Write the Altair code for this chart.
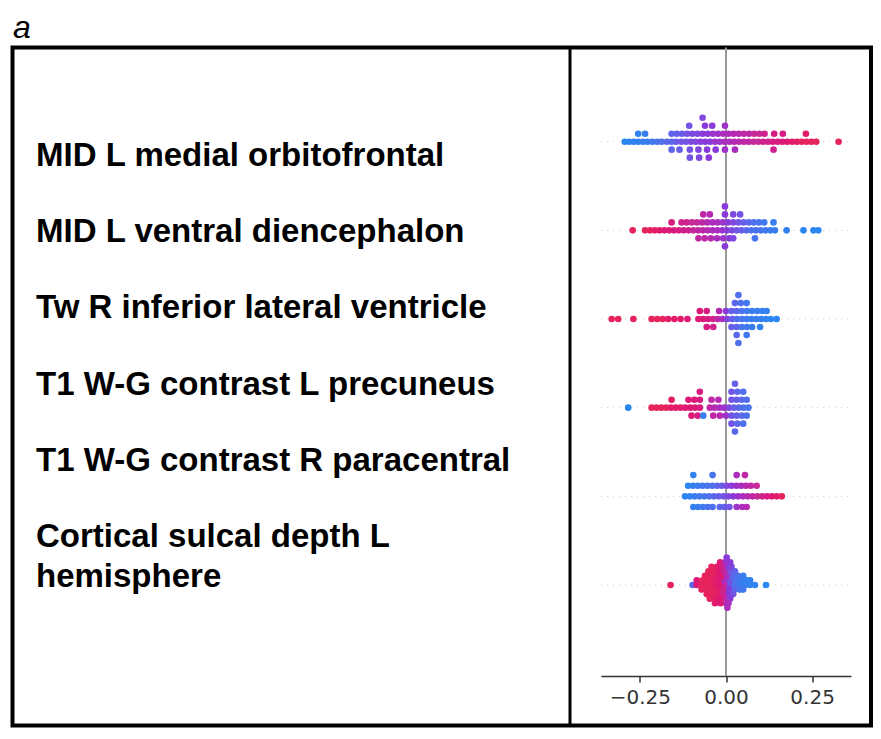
import altair as alt
import pandas as pd

# ---------------- data ----------------
features = [
    "MID L medial orbitofrontal",
    "MID L ventral diencephalon",
    "Tw R inferior lateral ventricle",
    "T1 W-G contrast L precuneus",
    "T1 W-G contrast R paracentral",
    "Cortical sulcal depth L\nhemisphere",
]
tick_values = [-0.25, 0.0, 0.25]

# each row: stacking layer -> list of (SHAP value, feature value 0=low/blue .. 1=high/red)
row_orbitofrontal = {
    0: [(-0.294, 0.0), (-0.281, 0.0), (-0.268, 0.05), (-0.255, 0.05), (-0.241, 0.1), (-0.228, 0.1),
        (-0.214, 0.15), (-0.2, 0.2), (-0.187, 0.25), (-0.172, 0.3), (-0.158, 0.3), (-0.145, 0.35),
        (-0.13, 0.4), (-0.116, 0.4), (-0.102, 0.45), (-0.088, 0.45), (-0.074, 0.5), (-0.06, 0.5),
        (-0.046, 0.5), (-0.032, 0.55), (-0.018, 0.55), (-0.004, 0.6), (0.01, 0.6), (0.024, 0.65),
        (0.038, 0.65), (0.052, 0.7), (0.066, 0.7), (0.08, 0.75), (0.094, 0.75), (0.108, 0.8),
        (0.122, 0.8), (0.136, 0.85), (0.15, 0.85), (0.164, 0.9), (0.178, 0.9), (0.192, 0.95),
        (0.206, 0.95), (0.22, 1.0), (0.234, 1.0), (0.248, 1.0), (0.262, 1.0), (0.327, 1.0)],
    -1: [(-0.255, 0.05), (-0.235, 0.1), (-0.158, 0.3), (-0.143, 0.35), (-0.128, 0.35), (-0.113, 0.4),
         (-0.098, 0.45), (-0.083, 0.45), (-0.068, 0.5), (-0.053, 0.5), (-0.038, 0.55), (-0.023, 0.55),
         (-0.008, 0.6), (0.007, 0.6), (0.022, 0.65), (0.037, 0.65), (0.052, 0.7), (0.067, 0.7),
         (0.082, 0.75), (0.097, 0.75), (0.112, 0.8), (0.14, 0.85), (0.165, 0.85), (0.232, 0.95)],
    -2: [(-0.107, 0.4), (-0.061, 0.5), (-0.04, 0.5), (-0.003, 0.55)],
    -3: [(-0.068, 0.45)],
    1: [(-0.158, 0.3), (-0.135, 0.35), (-0.105, 0.4), (-0.08, 0.45), (-0.055, 0.5), (-0.03, 0.5),
        (-0.003, 0.55), (0.026, 0.6), (0.138, 0.8)],
    2: [(-0.105, 0.4), (-0.078, 0.45), (-0.05, 0.5)],
}
row_diencephalon = {
    0: [(-0.271, 1.0), (-0.235, 1.0), (-0.221, 1.0), (-0.207, 0.95), (-0.193, 0.95), (-0.179, 0.9),
        (-0.165, 0.9), (-0.151, 0.85), (-0.137, 0.85), (-0.123, 0.8), (-0.109, 0.8), (-0.095, 0.75),
        (-0.081, 0.7), (-0.067, 0.7), (-0.053, 0.65), (-0.039, 0.6), (-0.025, 0.6), (-0.011, 0.55),
        (0.003, 0.5), (0.017, 0.45), (0.031, 0.4), (0.045, 0.35), (0.059, 0.3), (0.073, 0.25),
        (0.087, 0.2), (0.101, 0.2), (0.115, 0.15), (0.129, 0.1), (0.142, 0.1), (0.176, 0.05),
        (0.225, 0.0), (0.254, 0.0), (0.268, 0.0)],
    -1: [(-0.158, 0.85), (-0.129, 0.8), (-0.114, 0.8), (-0.099, 0.75), (-0.084, 0.75), (-0.069, 0.7),
         (-0.054, 0.65), (-0.039, 0.6), (-0.024, 0.6), (-0.009, 0.55), (0.006, 0.5), (0.021, 0.45),
         (0.036, 0.4), (0.051, 0.35), (0.066, 0.3), (0.081, 0.25), (0.096, 0.2), (0.111, 0.15),
         (0.138, 0.1)],
    -2: [(-0.066, 0.7), (-0.047, 0.65), (-0.003, 0.5), (0.021, 0.45), (0.041, 0.4)],
    -3: [(-0.003, 0.5)],
    1: [(-0.08, 0.7), (-0.062, 0.7), (-0.044, 0.65), (-0.026, 0.6), (-0.008, 0.55), (0.01, 0.5),
        (0.021, 0.45), (0.084, 0.2)],
    2: [(-0.003, 0.5)],
}
row_ventricle = {
    0: [(-0.332, 1.0), (-0.313, 1.0), (-0.269, 1.0), (-0.216, 1.0), (-0.2, 1.0), (-0.184, 1.0),
        (-0.168, 0.95), (-0.15, 0.95), (-0.132, 0.95), (-0.112, 0.9), (-0.08, 0.9), (-0.066, 0.9),
        (-0.052, 0.85), (-0.038, 0.8), (-0.024, 0.7), (-0.01, 0.6), (0.004, 0.45), (0.018, 0.35),
        (0.032, 0.25), (0.046, 0.2), (0.06, 0.15), (0.074, 0.1), (0.088, 0.1), (0.102, 0.05),
        (0.116, 0.05), (0.13, 0.0), (0.147, 0.0)],
    -1: [(-0.076, 0.9), (-0.056, 0.85), (-0.02, 0.65), (0.0, 0.5), (0.016, 0.35), (0.031, 0.3),
         (0.046, 0.2), (0.061, 0.15), (0.076, 0.1), (0.091, 0.1), (0.106, 0.05), (0.118, 0.05)],
    -2: [(0.026, 0.3), (0.043, 0.25), (0.06, 0.15)],
    -3: [(0.036, 0.25)],
    1: [(-0.056, 0.85), (-0.037, 0.8), (0.016, 0.35), (0.031, 0.3), (0.046, 0.2), (0.061, 0.15),
        (0.076, 0.1), (0.099, 0.05)],
    2: [(0.031, 0.3), (0.06, 0.15)],
    3: [(0.036, 0.25)],
}
row_precuneus = {
    0: [(-0.284, 0.0), (-0.216, 1.0), (-0.202, 1.0), (-0.188, 1.0), (-0.174, 1.0), (-0.16, 0.95),
        (-0.146, 0.95), (-0.132, 0.95), (-0.118, 0.9), (-0.104, 0.9), (-0.09, 0.9), (-0.076, 0.85),
        (-0.047, 0.7), (-0.033, 0.65), (-0.019, 0.6), (-0.005, 0.55), (0.009, 0.45), (0.023, 0.35),
        (0.037, 0.3), (0.051, 0.25), (0.065, 0.2)],
    -1: [(-0.158, 0.95), (-0.109, 0.9), (-0.092, 0.9), (-0.076, 0.85), (-0.042, 0.7), (-0.022, 0.65),
         (0.016, 0.4), (0.031, 0.35), (0.046, 0.3), (0.06, 0.25)],
    -2: [(-0.076, 0.85), (0.016, 0.4), (0.033, 0.3), (0.05, 0.25)],
    -3: [(0.026, 0.35)],
    1: [(-0.1, 0.9), (-0.082, 0.85), (-0.066, 0.1), (-0.037, 0.7), (-0.018, 0.65), (0.0, 0.55),
        (0.016, 0.4), (0.031, 0.35), (0.046, 0.3), (0.06, 0.25)],
    2: [(0.016, 0.4), (0.033, 0.3), (0.05, 0.25)],
    3: [(0.026, 0.3)],
}
row_paracentral = {
    0: [(-0.119, 0.0), (-0.105, 0.05), (-0.091, 0.1), (-0.077, 0.15), (-0.063, 0.2), (-0.049, 0.25),
        (-0.035, 0.3), (-0.021, 0.35), (-0.007, 0.4), (0.007, 0.45), (0.021, 0.5), (0.035, 0.55),
        (0.049, 0.6), (0.063, 0.65), (0.077, 0.7), (0.091, 0.75), (0.105, 0.8), (0.119, 0.85),
        (0.133, 0.9), (0.147, 0.95), (0.162, 1.0)],
    -1: [(-0.11, 0.0), (-0.096, 0.05), (-0.082, 0.1), (-0.068, 0.15), (-0.054, 0.2), (-0.04, 0.25),
         (-0.026, 0.3), (-0.012, 0.35), (0.002, 0.45), (0.016, 0.5), (0.03, 0.55), (0.044, 0.6),
         (0.058, 0.65), (0.072, 0.7), (0.089, 0.75)],
    -2: [(-0.095, 0.05), (-0.039, 0.2), (0.031, 0.6), (0.055, 0.7)],
    1: [(-0.095, 0.05), (-0.081, 0.1), (-0.067, 0.15), (-0.053, 0.2), (-0.039, 0.25), (-0.018, 0.3),
        (-0.004, 0.35), (0.01, 0.4), (0.031, 0.55), (0.047, 0.6), (0.06, 0.65)],
}
row_sulcal = {
    0: [(-0.161, 1.0), (-0.097, 0.3), (-0.085, 0.9), (-0.071, 1.0), (-0.057, 1.0), (-0.043, 1.0),
        (-0.029, 0.95), (-0.015, 0.9), (-0.001, 0.7), (0.013, 0.4), (0.027, 0.2), (0.041, 0.1),
        (0.055, 0.1), (0.069, 0.05), (0.084, 0.05), (0.116, 0.0)],
    -1: [(-0.085, 0.9), (-0.068, 1.0), (-0.052, 1.0), (-0.036, 0.95), (-0.02, 0.9), (-0.004, 0.6),
         (0.012, 0.4), (0.028, 0.2), (0.044, 0.1), (0.06, 0.05), (0.07, 0.05)],
    -2: [(-0.061, 1.0), (-0.045, 1.0), (-0.029, 0.95), (-0.013, 0.9), (0.003, 0.6), (0.019, 0.3),
         (0.035, 0.2), (0.05, 0.1)],
    -3: [(-0.051, 1.0), (-0.035, 1.0), (-0.019, 0.9), (-0.003, 0.7), (0.013, 0.4), (0.026, 0.3)],
    -4: [(-0.042, 1.0), (-0.026, 0.95), (-0.01, 0.8), (0.006, 0.5), (0.016, 0.45)],
    -5: [(-0.017, 0.9), (-0.002, 0.6), (0.012, 0.5)],
    -6: [(0.002, 0.5)],
    1: [(-0.071, 1.0), (-0.055, 1.0), (-0.039, 1.0), (-0.023, 0.95), (-0.007, 0.8), (0.009, 0.5),
        (0.025, 0.3), (0.04, 0.2), (0.05, 0.15)],
    2: [(-0.056, 1.0), (-0.04, 1.0), (-0.024, 0.95), (-0.008, 0.8), (0.008, 0.5), (0.021, 0.4)],
    3: [(-0.047, 1.0), (-0.031, 0.95), (-0.015, 0.9), (0.0, 0.7), (0.012, 0.5)],
    4: [(-0.032, 0.95), (-0.016, 0.9), (0.0, 0.7), (0.007, 0.6)],
    5: [(0.004, 0.6)],
}
rows = [row_orbitofrontal, row_diencephalon, row_ventricle,
        row_precuneus, row_paracentral, row_sulcal]

# ---------------- tables ----------------
records = []
for r, layers in enumerate(rows):
    max_layer = max(abs(k) for k in layers)
    step = 0.9 * 0.4 / (max_layer + 1)  # SHAP-style beeswarm stacking
    for layer, pts in layers.items():
        for sv, fv in pts:
            records.append({"row": r, "shap": sv, "fv": fv, "ypos": r + layer * step})
dots_df = pd.DataFrame(records)

rows_df = pd.DataFrame({"row": list(range(len(features)))})

label_records = []
for i, name in enumerate(features):
    for j, line in enumerate(name.split("\n")):
        label_records.append({"line": line, "lpos": i + j * 40 / 76})
labels_df = pd.DataFrame(label_records)

# ---------------- chart ----------------
XMIN, XMAX = -0.363, 0.363
W, H = 858.5, 678
xscale = alt.Scale(domain=[XMIN, XMAX], range=[588.5, 838.5], nice=False, zero=False)
yscale = alt.Scale(domain=[0, 5], range=[94.2, 537.5], nice=False, zero=False)

xaxis = alt.Axis(values=tick_values, format=".2f", title=None, grid=False, offset=-49.5,
                 domainColor="#333333", tickColor="#333333", labelColor="#333333",
                 labelFont="DejaVu Sans", labelFontSize=20, tickSize=6, domainWidth=1.5,
                 tickWidth=1.5, labelPadding=5, labelFlush=False)

row_lines = alt.Chart(rows_df).mark_rule(color="#cccccc", strokeDash=[1, 5], strokeWidth=1).encode(
    x=alt.X(datum=XMIN, scale=xscale, axis=xaxis),
    x2=alt.datum(XMAX),
    y=alt.Y("row:Q", scale=yscale, axis=None),
)

zero_line = alt.Chart(rows_df.head(1)).mark_rule(color="#999999", strokeWidth=2).encode(
    x=alt.X(datum=0),
    y=alt.value(0),
    y2=alt.value(628.5),
)

dots = alt.Chart(dots_df).mark_circle(size=44, opacity=1).encode(
    x=alt.X("shap:Q", scale=xscale, axis=xaxis),
    y=alt.Y("ypos:Q", scale=yscale, axis=None),
    color=alt.Color("fv:Q", scale=alt.Scale(domain=[0, 0.25, 0.5, 0.75, 1],
                                             range=["#2a86f0", "#4f6fec", "#8a3ad8",
                                                    "#c52a98", "#e6235c"]),
                    legend=None),
)

divider = alt.Chart(rows_df.head(1)).mark_rule(color="black", strokeWidth=3).encode(
    x=alt.value(557.5), y=alt.value(0), y2=alt.value(H)
)

labels = alt.Chart(labels_df).mark_text(
    align="left", baseline="middle", font="Liberation Sans", fontWeight="bold",
    fontSize=33, color="black"
).encode(
    x=alt.value(23.5),
    y=alt.Y("lpos:Q", scale=alt.Scale(domain=[0, 5], range=[108.5, 489.5], nice=False, zero=False),
            axis=None),
    text="line:N",
)

panel_tag = alt.Chart(pd.DataFrame({"t": ["a"]})).mark_text(
    align="left", baseline="alphabetic", font="Liberation Sans", fontStyle="italic",
    fontSize=32, color="black"
).encode(x=alt.value(0.5), y=alt.value(-10), text="t:N")

chart = alt.layer(row_lines, zero_line, dots, divider, labels, panel_tag).resolve_scale(
    y="independent"
).properties(
    width=W, height=H,
    autosize=alt.AutoSizeParams(type="none"),
    padding={"left": 4.5, "top": 39.5, "right": 2, "bottom": 5},
).configure_view(stroke="black", strokeWidth=4)

chart.save("out.html", embed_options={"renderer": "svg", "actions": False})
